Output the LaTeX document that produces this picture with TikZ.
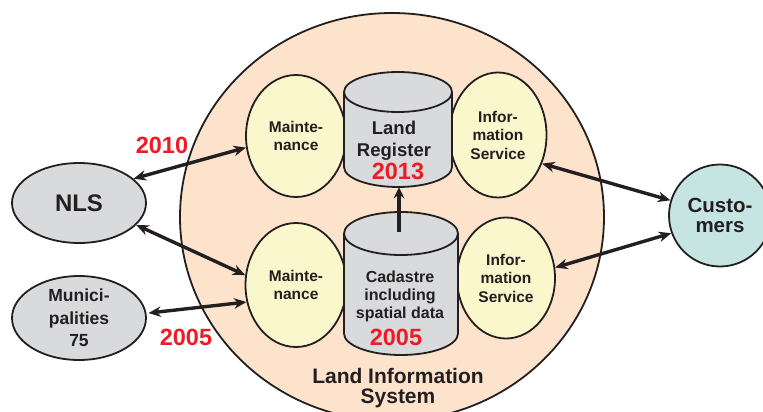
\documentclass[tikz,border=0pt]{standalone}
\usepackage{fontspec}
\setmainfont{Liberation Sans}
\usetikzlibrary{shapes.geometric,arrows.meta,calc}
\definecolor{peach}{HTML}{FDE3CB}
\definecolor{lyellow}{HTML}{FAF7CD}
\definecolor{lgray}{HTML}{D9DADC}
\definecolor{lteal}{HTML}{C6E5E2}
\definecolor{ink}{HTML}{231F20}
\definecolor{yearred}{HTML}{ED1C24}
\begin{document}
\begin{tikzpicture}[x=1pt,y=-1pt,
  outl/.style={draw=ink, line width=1.8pt},
  oval/.style={ellipse, outl, fill=lyellow, inner sep=0pt, align=center, text=ink,
    font=\bfseries\fontsize{15.5}{18.5}\selectfont, minimum width=100pt, minimum height=122pt},
  grayoval/.style={ellipse, outl, fill=lgray, inner sep=0pt, align=center, text=ink},
  lbl/.style={align=center, text=ink, inner sep=0pt},
  year/.style={text=yearred, inner sep=0pt, font=\bfseries\fontsize{23.5}{23.5}\selectfont},
  biarr/.style={line width=3.4pt, draw=ink, {Stealth[length=12.5pt,width=10.5pt]}-{Stealth[length=12.5pt,width=10.5pt]}},
  uparr/.style={line width=3.4pt, draw=ink, -{Stealth[length=11pt,width=10.5pt]}}
]
\useasboundingbox (0,0) rectangle (763,412);
\clip (0,0) rectangle (763,412);

% big Land Information System disc
\node[ellipse, outl, fill=peach, minimum width=424pt, minimum height=408pt, inner sep=0pt] (lis) at (392,217) {};
\node[lbl, font=\bfseries\fontsize{21}{20.5}\selectfont] (listext) at (398,388) {Land Information\\System};

% ovals
\node[oval] (m1) at (296,136) {Mainte-\\nance};
\node[oval, minimum width=97pt, minimum height=125pt] (i1) at (498,135) {Infor-\\mation\\Service};
\node[oval, minimum width=101pt, minimum height=124pt] (m2) at (296,285) {Mainte-\\nance};
\node[oval, minimum width=98pt, minimum height=121pt] (i2) at (506,278) {Infor-\\mation\\Service};

% Land Register cylinder
\fill[lgray, draw=ink, line width=1.8pt] (398,167) ellipse [x radius=54, y radius=20];
\fill[lgray] (344,92) rectangle (452,167);
\draw[ink, line width=1.8pt] (344,92) -- (344,167) (452,92) -- (452,167);
\fill[lgray, draw=ink, line width=1.8pt] (398,92) ellipse [x radius=54, y radius=20];
\node[minimum width=108pt, minimum height=115pt, inner sep=0pt] (lr) at (398,129.5) {};
\node[lbl, font=\bfseries\fontsize{18.5}{22}\selectfont] (lrtext) at (394,141) {Land\\Register};
\node[year] (y2013) at (398,171) {2013};

% Cadastre cylinder
\fill[lgray, draw=ink, line width=1.8pt] (401,333.5) ellipse [x radius=57, y radius=21.5];
\fill[lgray] (344,233.5) rectangle (458,333.5);
\draw[ink, line width=1.8pt] (344,233.5) -- (344,333.5) (458,233.5) -- (458,333.5);
\fill[lgray, draw=ink, line width=1.8pt] (401,233.5) ellipse [x radius=57, y radius=21.5];
\node[minimum width=114pt, minimum height=143pt, inner sep=0pt] (cad) at (401,283.5) {};
\node[lbl, font=\bfseries\fontsize{16}{18}\selectfont] (cadtext) at (400,296) {Cadastre\\including\\spatial data};
\node[year] (y2005b) at (396,337.5) {2005};
\coordinate (cadtop) at (399,232);

% outside nodes
\node[grayoval, minimum width=134pt, minimum height=80pt, font=\bfseries\fontsize{24}{24}\selectfont] (nls) at (79,203) {NLS};
\node[grayoval, minimum width=134pt, minimum height=84pt, font=\bfseries\fontsize{17.5}{22.5}\selectfont] (mun) at (79,318) {Munici-\\palities\\75};
\node[circle, outl, fill=lteal, minimum size=102pt, inner sep=0pt, align=center, text=ink,
  font=\bfseries\fontsize{20.5}{20}\selectfont] (cus) at (720,215.5) {Custo-\\mers};

% years outside
\node[year] (y2010) at (162,145) {2010};
\node[year] (y2005a) at (186,337) {2005};

% connectors
\draw[biarr] (nls.24) -- (m1.193);
\draw[biarr] (nls.-21) -- (m2.169);
\draw[biarr, shorten <=2pt] (mun.4) -- (m2.199);
\draw[biarr] (i1.-33) -- (cus.163);
\draw[biarr] (i2.12) -- (cus.200);
\draw[uparr] (cadtop) -- (cadtop |- lr.south);
\end{tikzpicture}
\end{document}
